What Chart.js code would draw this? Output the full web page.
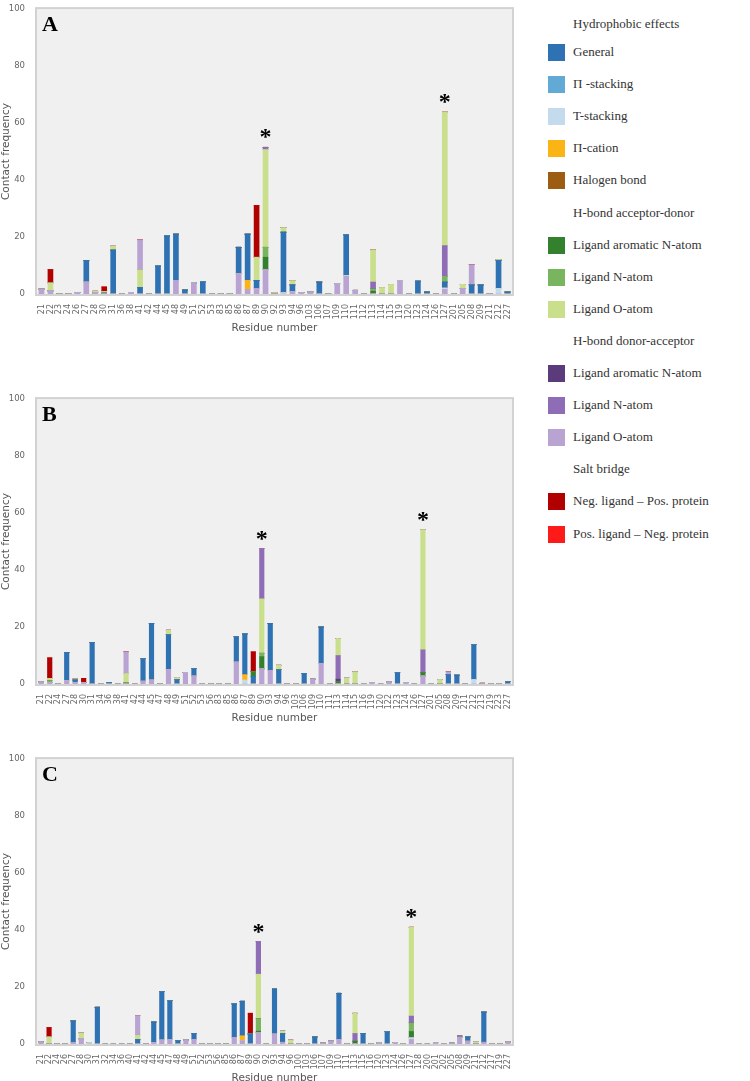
<!DOCTYPE html>
<html>
<head>
<meta charset="utf-8">
<script src="https://cdn.jsdelivr.net/npm/chart.js@4.4.0/dist/chart.umd.min.js"></script>
<style>
  body { margin: 0; background: #fff; width: 750px; height: 1081px; position: relative; overflow: hidden; }
  .panel { position: absolute; left: 0; }
  .legend { position: absolute; left: 0; top: 0; font-family: "Liberation Serif", serif; font-size: 13px; color: #333; }
  .legend div { position: absolute; white-space: nowrap; }
  .legend .box { width: 17px; height: 17px; }
</style>
</head>
<body>
<div class="panel" style="top:0"><canvas id="chartA" width="520" height="336"></canvas></div>
<div class="panel" style="top:390px"><canvas id="chartB" width="520" height="336"></canvas></div>
<div class="panel" style="top:750px"><canvas id="chartC" width="520" height="336"></canvas></div>
<div class="legend" id="legend"></div>
<script>
// residue labels for each panel
const labelsA = ['21','22','23','24','26','27','28','30','31','36','38','41','42','44','45','48','49','51','52','53','83','85','86','87','89','90','92','93','94','96','103','106','107','109','110','111','112','113','114','115','119','120','123','124','126','127','201','205','208','209','211','212','227'];
const labelsB = ['21','22','24','27','28','30','31','34','36','38','41','42','44','45','47','48','49','51','52','53','56','83','85','86','87','89','90','93','94','96','103','106','109','110','111','113','114','115','116','119','120','122','123','124','126','127','201','205','208','209','211','212','213','219','223','227'];
const labelsC = ['21','22','24','26','27','28','30','31','32','34','36','40','41','42','44','45','47','48','49','51','52','53','56','85','86','87','89','90','92','93','94','96','100','103','106','107','109','110','111','113','115','116','120','123','124','126','127','128','200','201','202','205','208','209','211','212','217','219','227'];

// contact frequencies, residue -> value (missing = 0)
// panel A
const generalA  = {27:7.6, 30:0.3, 31:15.4, 41:2.3, 44:9.8, 45:20.4, 48:16.2, 49:1.4, 52:4.3, 86:9.3, 87:16.2, 89:2.8, 93:21.2, 94:2.4, 106:4.2, 110:14.3, 123:4.5, 124:0.7, 127:2.1, 208:3.2, 209:3.2, 212:9.8, 227:0.7};
const piStackA  = {};
const tStackA   = {93:0.5, 110:0.3, 127:0.5, 212:2.0};
const piCationA = {87:3.2};
const halogenA  = {};
const aroNGA    = {90:4.3, 113:1.0};
const nGreenA   = {90:3.5, 113:0.8, 127:2.0};
const oGreenA   = {22:2.8, 28:0.6, 30:0.6, 31:1.4, 41:6.2, 89:8.1, 90:34.3, 92:0.5, 93:1.6, 94:1.5, 113:11.3, 114:2.3, 115:3.4, 127:46.9, 205:1.4, 212:0.3};
const aroNPA    = {};
const nPurpleA  = {113:2.4, 127:10.8};
const nPurpleTopA = {90:0.8};
const oPurpleA  = {21:1.7, 22:1.1, 26:0.5, 27:4.2, 28:0.4, 38:0.5, 48:4.8, 51:3.9, 86:7.1, 87:1.6, 89:2.0, 90:8.6, 94:0.8, 96:0.5, 103:0.7, 109:3.6, 110:6.2, 111:1.3, 119:4.7, 127:1.6, 205:2.0};
const oPurpleTopA = {41:10.5, 208:7.1};
const negA      = {22:4.7, 30:1.6, 89:18.2};
const posA      = {};

// panel B
const generalB  = {27:9.9, 28:0.9, 31:14.6, 36:0.5, 44:7.9, 45:19.9, 48:12.3, 49:1.5, 52:2.6, 86:8.9, 87:14.3, 89:2.7, 93:16.5, 94:5.0, 106:3.7, 110:12.8, 123:4.0, 208:3.3, 209:3.1, 212:12.2, 227:0.8};
const piStackB  = {};
const tStackB   = {87:1.4, 212:1.6};
const piCationB = {87:1.9};
const halogenB  = {};
const aroNGB    = {89:1.6, 90:4.3, 113:0.8, 127:1.2};
const nGreenB   = {22:0.7, 41:0.5, 90:1.2};
const oGreenB   = {22:0.8, 28:0.4, 41:3.2, 48:1.6, 49:0.8, 90:19.1, 94:1.6, 113:6.0, 114:2.2, 115:4.3, 127:42.2, 205:1.6, 213:0.3};
const aroNPB    = {113:0.9};
const nPurpleB  = {113:8.3, 127:8.0};
const nPurpleTopB = {90:17.6};
const oPurpleB  = {21:0.7, 22:0.5, 27:1.2, 28:0.5, 30:0.5, 44:1.0, 45:1.4, 48:5.0, 51:4.0, 52:2.8, 86:7.7, 90:5.3, 93:4.8, 109:1.7, 110:7.2, 119:0.5, 122:0.7, 124:0.5, 127:2.8};
const oPurpleTopB = {41:7.6, 208:1.0};
const negB      = {22:7.2, 30:1.5, 89:7.0};
const posB      = {};

// panel C
const generalC  = {27:7.7, 31:12.9, 41:1.6, 44:7.2, 45:17.0, 47:13.6, 48:1.2, 51:2.1, 86:11.8, 87:12.1, 89:3.5, 93:15.8, 94:3.1, 106:2.5, 110:16.2, 115:3.7, 123:4.3, 209:1.5, 212:10.6};
const piStackC  = {};
const tStackC   = {30:0.5, 127:0.6};
const piCationC = {87:1.7};
const halogenC  = {};
const aroNGC    = {90:0.6, 113:1.0, 127:2.2};
const nGreenC   = {90:4.4, 127:3.0};
const oGreenC   = {22:2.5, 28:2.1, 41:1.5, 90:15.6, 94:0.9, 96:1.4, 113:7.1, 127:31.2, 211:0.8};
const aroNPC    = {208:0.4};
const nPurpleC  = {113:2.7, 127:2.4};
const nPurpleTopC = {90:11.5};
const oPurpleC  = {21:0.7, 27:0.4, 28:1.8, 44:0.5, 45:1.4, 47:1.6, 49:1.4, 51:1.6, 86:2.3, 87:1.2, 90:3.9, 93:3.5, 94:0.6, 107:0.3, 109:1.0, 110:1.6, 120:0.4, 124:0.5, 127:1.6, 201:0.4, 205:0.3, 208:2.4, 209:1.0, 212:0.6, 227:0.7};
const oPurpleTopC = {41:6.9};
const negC      = {22:3.3, 89:7.3};
const posC      = {};

const starred = ['90', '127'];

const colors = {
  general: '#2e72b4', piStack: '#62a9d6', tStack: '#c4dbee', piCation: '#fbb416', halogen: '#9c5c12',
  aroNG: '#33802f', nGreen: '#79b45f', oGreen: '#c9df8b',
  aroNP: '#5c3b7d', nPurple: '#8f6db6', oPurple: '#b8a3d2',
  neg: '#b00000', pos: '#ff1a1a'
};

// stacking order, bottom to top
function makeDatasets(labels, s) {
  const order = [
    ['Ligand O-atom', s.oPurple, colors.oPurple],
    ['T-stacking', s.tStack, colors.tStack],
    ['Π-cation', s.piCation, colors.piCation],
    ['General', s.general, colors.general],
    ['Π -stacking', s.piStack, colors.piStack],
    ['Halogen bond', s.halogen, colors.halogen],
    ['Ligand aromatic N-atom', s.aroNG, colors.aroNG],
    ['Ligand N-atom', s.nGreen, colors.nGreen],
    ['Ligand aromatic N-atom', s.aroNP, colors.aroNP],
    ['Ligand N-atom', s.nPurple, colors.nPurple],
    ['Ligand O-atom', s.oGreen, colors.oGreen],
    ['Ligand N-atom', s.nPurpleTop, colors.nPurple],
    ['Ligand O-atom', s.oPurpleTop, colors.oPurple],
    ['Neg. ligand – Pos. protein', s.neg, colors.neg],
    ['Pos. ligand – Neg. protein', s.pos, colors.pos]
  ];
  return order.map(([label, vals, col]) => ({
    label: label,
    data: labels.map(r => vals[r] || 0),
    backgroundColor: col,
    borderWidth: 0,
    stack: 's'
  }));
}

const framePlugin = {
  id: 'frame',
  beforeDatasetsDraw(c) {
    const { ctx, chartArea: a } = c;
    ctx.save();
    ctx.fillStyle = '#f0f0f0';
    ctx.fillRect(a.left, a.top, a.width, a.height);
    ctx.strokeStyle = '#d2d2d2';
    ctx.lineWidth = 2;
    ctx.strokeRect(a.left - 1, a.top - 1, a.width + 2, a.height + 2);
    ctx.restore();
  },
  afterDatasetsDraw(c, args, opts) {
    const { ctx, chartArea: a } = c;
    ctx.save();
    ctx.fillStyle = '#000';
    ctx.font = 'bold 22px "Liberation Serif", serif';
    ctx.textBaseline = 'middle';
    ctx.fillText(opts.letter, a.left + 5, a.top + 16);
    // asterisks above the starred residues
    ctx.font = 'bold 24px "Liberation Serif", serif';
    ctx.textAlign = 'center';
    const labels = c.data.labels;
    starred.forEach(r => {
      const i = labels.indexOf(r);
      if (i < 0) return;
      let total = 0;
      c.data.datasets.forEach(d => { total += d.data[i]; });
      const x = c.scales.x.getPixelForValue(i);
      const y = c.scales.y.getPixelForValue(total);
      ctx.fillText('*', x, y - 9);
    });
    ctx.restore();
  }
};

function drawPanel(id, letter, labels, s, barW) {
  const ctx = document.getElementById(id).getContext('2d');
  return new Chart(ctx, {
    type: 'bar',
    data: { labels: labels, datasets: makeDatasets(labels, s) },
    plugins: [framePlugin],
    options: {
      responsive: false,
      animation: false,
      devicePixelRatio: 1,
      layout: { padding: { top: 5, right: 8, left: 0, bottom: 0 } },
      barThickness: barW,
      plugins: {
        legend: { display: false },
        tooltip: { enabled: false },
        frame: { letter: letter }
      },
      scales: {
        x: {
          stacked: true,
          grid: { display: false },
          border: { display: false },
          ticks: {
            autoSkip: false, minRotation: 90, maxRotation: 90, padding: 2,
            color: '#666', font: { family: 'DejaVu Sans', size: 8 }
          },
          title: {
            display: true, text: 'Residue number', color: '#555',
            font: { family: 'DejaVu Sans', size: 10.5 }, padding: { top: 0, bottom: 1 }
          },
          afterFit: sc => { sc.height = 42; }
        },
        y: {
          stacked: true,
          min: 0, max: 100,
          grid: { display: false },
          border: { display: false },
          ticks: { stepSize: 20, padding: 4, color: '#666', font: { family: 'DejaVu Sans', size: 8.5 } },
          title: {
            display: true, text: 'Contact frequency', color: '#555',
            font: { family: 'DejaVu Sans', size: 10.5 }, padding: { top: 0, bottom: 0 }
          },
          afterFit: sc => { sc.width = 37; }
        }
      }
    }
  });
}

drawPanel('chartA', 'A', labelsA, {
  general: generalA, piStack: piStackA, tStack: tStackA, piCation: piCationA, halogen: halogenA,
  aroNG: aroNGA, nGreen: nGreenA, oGreen: oGreenA, aroNP: aroNPA, nPurple: nPurpleA,
  nPurpleTop: nPurpleTopA, oPurple: oPurpleA, oPurpleTop: oPurpleTopA, neg: negA, pos: posA
}, 5);
drawPanel('chartB', 'B', labelsB, {
  general: generalB, piStack: piStackB, tStack: tStackB, piCation: piCationB, halogen: halogenB,
  aroNG: aroNGB, nGreen: nGreenB, oGreen: oGreenB, aroNP: aroNPB, nPurple: nPurpleB,
  nPurpleTop: nPurpleTopB, oPurple: oPurpleB, oPurpleTop: oPurpleTopB, neg: negB, pos: posB
}, 4.5);
drawPanel('chartC', 'C', labelsC, {
  general: generalC, piStack: piStackC, tStack: tStackC, piCation: piCationC, halogen: halogenC,
  aroNG: aroNGC, nGreen: nGreenC, oGreen: oGreenC, aroNP: aroNPC, nPurple: nPurpleC,
  nPurpleTop: nPurpleTopC, oPurple: oPurpleC, oPurpleTop: oPurpleTopC, neg: negC, pos: posC
}, 4.5);

// legend (html), headers have no colour box
const legendRows = [
  ['Hydrophobic effects', null],
  ['General', colors.general],
  ['Π -stacking', colors.piStack],
  ['T-stacking', colors.tStack],
  ['Π-cation', colors.piCation],
  ['Halogen bond', colors.halogen],
  ['H-bond acceptor-donor', null],
  ['Ligand aromatic N-atom', colors.aroNG],
  ['Ligand N-atom', colors.nGreen],
  ['Ligand O-atom', colors.oGreen],
  ['H-bond donor-acceptor', null],
  ['Ligand aromatic N-atom', colors.aroNP],
  ['Ligand N-atom', colors.nPurple],
  ['Ligand O-atom', colors.oPurple],
  ['Salt bridge', null],
  ['Neg. ligand – Pos. protein', colors.neg],
  ['Pos. ligand – Neg. protein', colors.pos]
];
const legend = document.getElementById('legend');
legendRows.forEach(([text, col], i) => {
  const yc = i === 0 ? 24 : 52 + (i - 1) * 32.1;
  const t = document.createElement('div');
  t.textContent = text;
  t.style.left = '573px';
  t.style.top = (yc - 8) + 'px';
  legend.appendChild(t);
  if (col) {
    const b = document.createElement('div');
    b.className = 'box';
    b.style.background = col;
    b.style.left = '548px';
    b.style.top = (yc - 8) + 'px';
    legend.appendChild(b);
  }
});
</script>
</body>
</html>
